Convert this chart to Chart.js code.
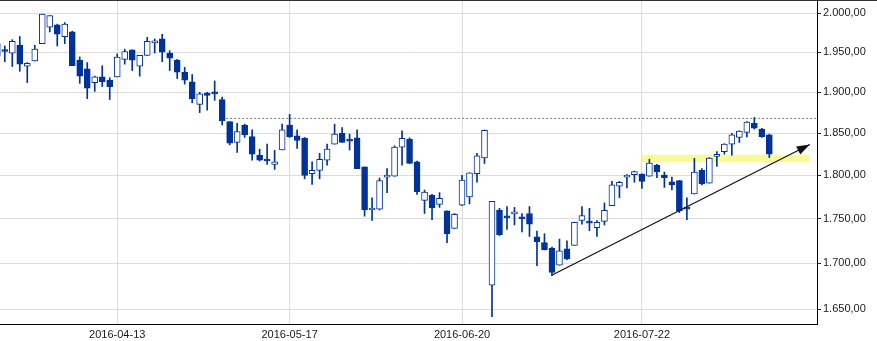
<!DOCTYPE html>
<html>
<head>
<meta charset="utf-8">
<script src="https://cdn.jsdelivr.net/npm/chart.js@4.4.1/dist/chart.umd.min.js"></script>
<style>
body { margin: 0; background: #fff; }
#wrap { width: 877px; height: 341px; }
</style>
</head>
<body>
<div id="wrap"><canvas id="chart-wig" width="877" height="341"></canvas></div>
<script>
// sesiones (dias de sesion)
var dates = ['2016-03-18','2016-03-21','2016-03-22','2016-03-23','2016-03-24','2016-03-29','2016-03-30','2016-03-31','2016-04-01','2016-04-04',
  '2016-04-05','2016-04-06','2016-04-07','2016-04-08','2016-04-11','2016-04-12','2016-04-13','2016-04-14','2016-04-15','2016-04-18',
  '2016-04-19','2016-04-20','2016-04-21','2016-04-22','2016-04-25','2016-04-26','2016-04-27','2016-04-28','2016-04-29','2016-05-02',
  '2016-05-04','2016-05-05','2016-05-06','2016-05-09','2016-05-10','2016-05-11','2016-05-12','2016-05-13','2016-05-16','2016-05-17',
  '2016-05-18','2016-05-19','2016-05-20','2016-05-23','2016-05-24','2016-05-25','2016-05-27','2016-05-30','2016-05-31','2016-06-01',
  '2016-06-02','2016-06-03','2016-06-06','2016-06-07','2016-06-08','2016-06-09','2016-06-10','2016-06-13','2016-06-14','2016-06-15',
  '2016-06-16','2016-06-17','2016-06-20','2016-06-21','2016-06-22','2016-06-23','2016-06-24','2016-06-27','2016-06-28','2016-06-29',
  '2016-06-30','2016-07-01','2016-07-04','2016-07-05','2016-07-06','2016-07-07','2016-07-08','2016-07-11','2016-07-12','2016-07-13',
  '2016-07-14','2016-07-15','2016-07-18','2016-07-19','2016-07-20','2016-07-21','2016-07-22','2016-07-25','2016-07-26','2016-07-27',
  '2016-07-28','2016-07-29','2016-08-01','2016-08-02','2016-08-03','2016-08-04','2016-08-05','2016-08-08','2016-08-09','2016-08-10',
  '2016-08-11','2016-08-12','2016-08-16','2016-08-17'];

var opens = [1961,1953,1949,1959,1932.5,1939,1961,1982,1985,1970,
  1976,1940,1929,1912,1919,1915,1919,1941,1953,1932.5,
  1946,1962,1967,1949,1940,1925,1913,1885,1899,1900,
  1891,1864,1839,1860,1846,1824,1819,1813,1830,1860,
  1847,1844,1802,1806,1818,1837,1850,1842,1844.5,1810,
  1760,1761,1798,1799,1833.5,1843,1816,1771,1777,1766.5,
  1759,1739,1765.5,1775,1802,1820.5,1676,1760,1753,1755.5,
  1752,1756,1729.5,1723,1717,1698,1716,1720,1748,1747,
  1740,1747,1765,1787.5,1798,1801,1801.5,1799,1812,1800.5,
  1792.5,1794,1762,1778.5,1806,1791,1822.5,1828,1837,1845,
  1851,1862,1855,1848];

var highs = [1963,1958,1966,1970,1937,1959,1999,1997,1986,1988,
  1977,1944,1937,1920,1933,1918,1948,1954,1953,1946,
  1969,1967,1973,1952,1941,1931,1922,1900,1900,1914,
  1894,1864,1862,1861,1854,1831,1837,1829.5,1861,1873,
  1854,1845,1816,1826,1837,1861,1857,1849,1854,1810,
  1774,1797,1808,1835,1853,1844.5,1817,1783,1778,1780,
  1759,1756,1800,1803,1826,1854,1770,1762,1764,1763,
  1756,1764,1736,1733,1718,1727,1725,1746,1764,1762,
  1748,1768,1793,1793,1801,1805,1802,1819,1813,1804,
  1798,1794,1774,1820,1808,1821,1828,1837.5,1850,1853,
  1864,1869,1856,1849];

var lows = [1941,1938,1932,1926,1912,1939,1961,1976,1958,1961,
  1933,1911,1892,1901,1907,1891,1919,1935,1927,1920,
  1946,1949,1938,1927,1917,1910,1887,1875,1878,1890,
  1860,1836,1827,1845,1818,1817,1813,1807,1830,1845,
  1832,1796,1789.5,1796,1812,1837,1839,1830,1808,1753,
  1748,1760,1780,1799,1812,1814,1778,1756,1749,1763,
  1723,1739,1765,1767,1792,1814,1642,1731,1738,1743,
  1735,1730,1697.5,1715,1687,1698,1704,1720,1744,1736.5,
  1730,1743,1765,1774,1785.5,1792,1785,1799,1797.5,1786,
  1783,1757,1749,1778.5,1789,1791,1810.5,1825,1824,1839,
  1845.5,1855,1845,1821];

var closes = [1945,1951,1964,1935,1936,1954,1999,1997,1973,1986,
  1933,1920,1905,1919,1913,1907,1944,1951,1940,1946,
  1964,1963,1950,1942.5,1925,1915,1892,1898,1896,1898,
  1865,1838,1852,1848,1825,1818,1817,1816,1854,1846,
  1841.5,1800,1806,1819,1831,1849,1839,1840.5,1808,1760,
  1762,1794,1798.5,1833.5,1844,1814,1781,1780.5,1762.5,1773.5,
  1733,1755,1794.5,1803,1823,1853.5,1770,1732,1751,1757,
  1750,1744,1724,1715,1690,1714,1705,1746,1753.5,1745,
  1746,1759.5,1789,1792,1800.5,1804.5,1793,1814.5,1804,1797.5,
  1789,1759,1761,1804,1790,1820.5,1824.5,1837,1848,1852.5,
  1863.5,1856,1846,1825];

// etiquetas de los ejes
var xTickDates = ['2016-04-13', '2016-05-17', '2016-06-20', '2016-07-22'];
var yTicks = [1650, 1700, 1750, 1800, 1850, 1900, 1950, 2000];

// dibujos sobre el grafico
var resLevel = 1868;            // linea horizontal punteada
var resFrom = 30;               // desde la sesion nro 30
var bandX = [86, 108.4];        // franja amarilla
var bandLow = 1815.5;
var bandHigh = 1824.4;
var trendX = [73.9, 108.4];     // flecha de tendencia
var trendY = [1686.6, 1836.5];

var blue = '#003399';
var xMin = 0.36, xMax = 109.36;

function fmt(v) {
  var s = v.toFixed(2).split('.');
  s[0] = s[0].replace(/\B(?=(\d{3})+(?!\d))/g, '.');
  return s.join(',');
}

function noPadding(scale) {
  scale.paddingTop = 0;
  scale.paddingBottom = 0;
  scale.paddingLeft = 0;
  scale.paddingRight = 0;
}

var bodyData = dates.map(function(d, i) { return {x: i, y: [opens[i], closes[i]]}; });
var wickData = dates.map(function(d, i) { return {x: i, y: [lows[i], highs[i]]}; });

// flecha al final de la linea de tendencia
var arrowHead = {
  id: 'arrowHead',
  afterDatasetsDraw: function(chart) {
    var xs = chart.scales.x, ys = chart.scales.y, c = chart.ctx;
    var x0 = xs.getPixelForValue(trendX[0]), y0 = ys.getPixelForValue(trendY[0]);
    var x1 = xs.getPixelForValue(trendX[1]), y1 = ys.getPixelForValue(trendY[1]);
    var a = Math.atan2(y1 - y0, x1 - x0);
    var len = 13, hw = 4.5;
    c.save();
    c.fillStyle = '#111';
    c.beginPath();
    c.moveTo(x1, y1);
    c.lineTo(x1 - len * Math.cos(a) + hw * Math.sin(a), y1 - len * Math.sin(a) - hw * Math.cos(a));
    c.lineTo(x1 - len * Math.cos(a) - hw * Math.sin(a), y1 - len * Math.sin(a) + hw * Math.cos(a));
    c.closePath();
    c.fill();
    c.restore();
  }
};

// borde de arriba
var topBorder = {
  id: 'topBorder',
  afterDraw: function(chart) {
    var c = chart.ctx;
    c.save();
    c.fillStyle = '#333';
    c.fillRect(0, 0, chart.width, 1);
    c.restore();
  }
};

var chart_wig = new Chart(document.getElementById('chart-wig'), {
  type: 'bar',
  data: {
    datasets: [{
      type: 'line',
      data: [{x: trendX[0], y: trendY[0]}, {x: trendX[1], y: trendY[1]}],
      borderColor: '#111',
      borderWidth: 1.2,
      pointRadius: 0,
      fill: false,
      order: -1
    }, {
      // cuerpo de las velas
      data: bodyData,
      backgroundColor: function(ctx) {
        var i = ctx.dataIndex;
        return closes[i] >= opens[i] ? '#ffffff' : blue;
      },
      borderColor: blue,
      borderWidth: 1,
      borderSkipped: false,
      barThickness: 6,
      minBarLength: 2,
      grouped: false,
      order: 1
    }, {
      // mechas
      data: wickData,
      backgroundColor: blue,
      borderWidth: 0,
      barThickness: 1,
      grouped: false,
      order: 2
    }, {
      type: 'line',
      data: [{x: resFrom, y: resLevel}, {x: xMax, y: resLevel}],
      borderColor: '#777',
      borderWidth: 1,
      borderDash: [2, 2],
      pointRadius: 0,
      fill: false,
      order: 3
    }, {
      type: 'line',
      data: [{x: bandX[0], y: bandHigh}, {x: bandX[1], y: bandHigh}],
      borderWidth: 0,
      pointRadius: 0,
      fill: false,
      order: 10
    }, {
      type: 'line',
      data: [{x: bandX[0], y: bandLow}, {x: bandX[1], y: bandLow}],
      borderWidth: 0,
      pointRadius: 0,
      backgroundColor: '#fbfb96',
      fill: '-1',
      order: 11
    }]
  },
  options: {
    responsive: false,
    animation: false,
    devicePixelRatio: 1,
    layout: { padding: 0 },
    plugins: {
      legend: { display: false },
      tooltip: { enabled: false }
    },
    scales: {
      x: {
        type: 'linear',
        min: xMin,
        max: xMax,
        offset: false,
        afterBuildTicks: function(scale) {
          scale.ticks = xTickDates.map(function(d) { return {value: dates.indexOf(d)}; });
        },
        afterFit: function(scale) { scale.height = 17; noPadding(scale); },
        grid: { color: '#dddddd', drawTicks: false, offset: false },
        border: { display: true, color: '#000', width: 1 },
        ticks: {
          autoSkip: false,
          maxRotation: 0,
          padding: 4,
          color: '#1a1a1a',
          font: { family: '"Liberation Sans", Arial, sans-serif', size: 11 },
          callback: function(v) { return dates[v]; }
        }
      },
      y: {
        type: 'logarithmic',
        position: 'right',
        min: 1634.3,
        max: 2017.4,
        afterBuildTicks: function(scale) {
          scale.ticks = yTicks.map(function(v) { return {value: v}; });
        },
        afterFit: function(scale) { scale.width = 60; noPadding(scale); },
        grid: { color: '#dddddd', tickLength: 4, tickColor: '#222' },
        border: { display: true, color: '#000', width: 1 },
        ticks: {
          padding: 2,
          color: '#1a1a1a',
          font: { family: '"Liberation Sans", Arial, sans-serif', size: 11 },
          callback: function(v) { return fmt(v); }
        }
      }
    }
  },
  plugins: [arrowHead, topBorder]
});
</script>
</body>
</html>
